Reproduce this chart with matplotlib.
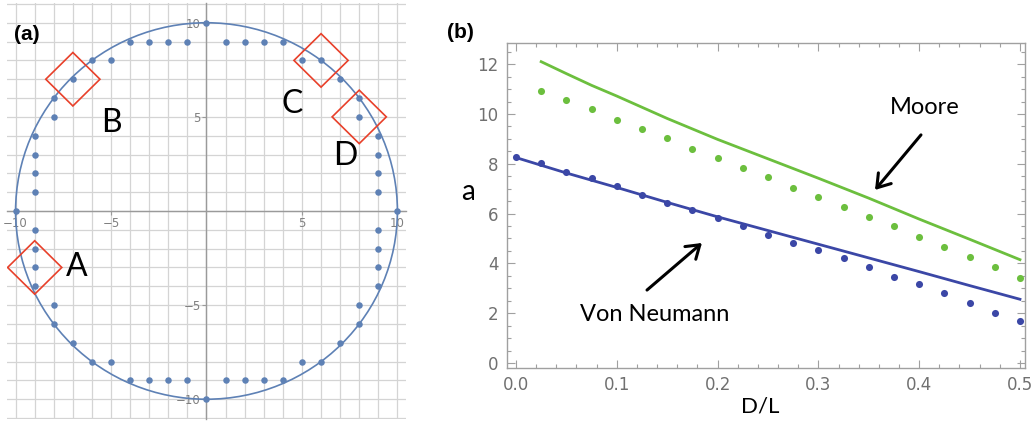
import matplotlib
matplotlib.use('Agg')
import matplotlib.pyplot as plt
from matplotlib.patches import Circle, RegularPolygon
import numpy as np

# ---- panel (a): lattice points on a circle of radius 10 ----
radius = 10
row_y = [10, 9, 8, 7, 6, 5, 4, 3, 2, 1, 0,
         -1, -2, -3, -4, -5, -6, -7, -8, -9, -10]
row_x = [[0], [-4, -3, -2, -1, 1, 2, 3, 4], [-6, -5, 5, 6], [-7, 7], [-8, 8], [-8, 8],
         [-9, 9], [-9, 9], [-9, 9], [-9, 9], [-10, 10],
         [-9, 9], [-9, 9], [-9, 9], [-9, 9], [-8, 8], [-8, 8], [-7, 7],
         [-6, -5, 5, 6], [-4, -3, -2, -1, 1, 2, 3, 4], [0]]

box_names = ['A', 'B', 'C', 'D']
box_x = [-9, -7, 6, 8]
box_y = [-3, 7, 8, 5]
label_x = [-6.8, -5.0, 4.5, 7.25]
label_y = [-3.0, 4.7, 5.7, 2.9]

# ---- panel (b): a vs D/L ----
vn_dot_x = [0.0, 0.025, 0.05, 0.075, 0.1, 0.125, 0.15, 0.175, 0.2, 0.225, 0.25,
            0.275, 0.3, 0.325, 0.35, 0.375, 0.4, 0.425, 0.45, 0.475, 0.5]
vn_dot_y = [8.29, 8.05, 7.66, 7.42, 7.12, 6.75, 6.44, 6.13, 5.81, 5.50, 5.14,
            4.83, 4.52, 4.22, 3.84, 3.47, 3.17, 2.80, 2.42, 1.99, 1.69]
moore_dot_x = vn_dot_x[1:]
moore_dot_y = [10.94, 10.56, 10.19, 9.76, 9.40, 9.02, 8.59, 8.23, 7.83, 7.48,
               7.04, 6.68, 6.25, 5.88, 5.51, 5.07, 4.64, 4.27, 3.84, 3.41]

vn_line_x = [0.0, 0.05, 0.1, 0.15, 0.2, 0.25, 0.3, 0.35, 0.4, 0.45, 0.5]
vn_line_y = [8.25, 7.63, 7.05, 6.45, 5.87, 5.32, 4.77, 4.22, 3.67, 3.11, 2.56]
moore_line_x = [0.025, 0.05, 0.075, 0.1, 0.15, 0.2, 0.25, 0.3, 0.35, 0.4, 0.45, 0.5]
moore_line_y = [12.1, 11.62, 11.15, 10.72, 9.82, 8.98, 8.2, 7.42, 6.62, 5.78, 4.97, 4.15]

pt_blue = '#5e81b5'
box_red = '#e8402a'
vn_blue = '#3b47a6'
moore_green = '#6cbf3e'

fig = plt.figure(figsize=(10.31, 4.25), dpi=100)

# ---------------- (a) ----------------
ax1 = fig.add_axes([7 / 1031, 6 / 425, 399 / 1031, 416 / 425])
ax1.set_xlim(-10.45, 10.45)
ax1.set_ylim(-11.05, 11.05)

for g in range(-11, 12):
    ax1.axhline(g, color='#d4d4d4', lw=0.9, zorder=0)
    ax1.axvline(g, color='#d4d4d4', lw=0.9, zorder=0)

ax1.add_patch(Circle((0, 0), radius, fill=False, ec=pt_blue, lw=1.2, zorder=2))

xs = [x for xr in row_x for x in xr]
ys = [y for y, xr in zip(row_y, row_x) for x in xr]
ax1.scatter(xs, ys, s=22, color=pt_blue, zorder=3, linewidths=0)

for name, bx, by, lx, ly in zip(box_names, box_x, box_y, label_x, label_y):
    ax1.add_patch(RegularPolygon((bx, by), numVertices=4, radius=1.42, orientation=0,
                                 fill=False, ec=box_red, lw=1.2, zorder=4))
    ax1.text(lx, ly, name, fontsize=23, family='Lato', ha='center', va='center', zorder=5)

for s in ['top', 'right']:
    ax1.spines[s].set_visible(False)
ax1.spines['left'].set_position(('data', 0))
ax1.spines['bottom'].set_position(('data', 0))
for s in ['left', 'bottom']:
    ax1.spines[s].set_color('#9a9a9a')
    ax1.spines[s].set_linewidth(1.0)
ax1.set_xticks([-10, -5, 5, 10])
ax1.set_yticks([-10, -5, 5, 10])
ax1.set_xticklabels(['\u221210', '\u22125', '5', '10'])
ax1.set_yticklabels(['\u221210', '\u22125', '5', '10'])
ax1.tick_params(colors='#9a9a9a', labelcolor='#808080', labelsize=8.5, length=3, width=0.8, pad=1)
ax1.set_facecolor('none')

fig.text(14 / 1031, 1 - 35 / 425, '(a)', fontsize=15, fontweight='bold', family='Liberation Sans',
         ha='left', va='center')

# ---------------- (b) ----------------
ax2 = fig.add_axes([507 / 1031, 57 / 425, 518 / 1031, 325 / 425])
ax2.plot(vn_line_x, vn_line_y, color=vn_blue, lw=2.0, zorder=2)
ax2.plot(moore_line_x, moore_line_y, color=moore_green, lw=2.0, zorder=2)
ax2.scatter(vn_dot_x, vn_dot_y, s=26, color=vn_blue, linewidths=0, zorder=3)
ax2.scatter(moore_dot_x, moore_dot_y, s=26, color=moore_green, linewidths=0, zorder=3)

ax2.set_xlim(-0.0089, 0.505)
ax2.set_ylim(-0.2, 12.85)
ax2.set_xticks([0.0, 0.1, 0.2, 0.3, 0.4, 0.5])
ax2.set_xticks(np.arange(0, 0.505, 0.02), minor=True)
ax2.set_yticks([0, 2, 4, 6, 8, 10, 12])
ax2.set_yticks(np.arange(0, 12.8, 0.5), minor=True)
ax2.set_xticklabels(['0.0', '0.1', '0.2', '0.3', '0.4', '0.5'])
for s in ax2.spines.values():
    s.set_color('#a0a0a0')
    s.set_linewidth(1.0)
ax2.tick_params(which='both', direction='in', top=True, right=True, colors='#a0a0a0',
                labelcolor='#707070', labelsize=12, width=0.8)
ax2.tick_params(which='major', length=6, pad=6)
ax2.tick_params(which='minor', length=3)

ax2.text(-0.0476, 6.87, 'a', fontsize=20, family='Lato', ha='center', va='center')
ax2.text(0.242, -1.75, 'D/L', fontsize=16, family='Lato', ha='center', va='center', clip_on=False)

ax2.text(0.4058, 10.28, 'Moore', fontsize=17, family='Lato', ha='center', va='center')
ax2.text(0.1379, 1.93, 'Von Neumann', fontsize=17, family='Lato', ha='center', va='center')
arrow_style = dict(arrowstyle='->, head_length=0.45, head_width=0.3', color='black', lw=2.2,
                   mutation_scale=20, shrinkA=0, shrinkB=0)
ax2.annotate('', xy=(0.3562, 6.95), xytext=(0.4018, 9.16), arrowprops=arrow_style)
ax2.annotate('', xy=(0.1845, 4.82), xytext=(0.1300, 2.93), arrowprops=arrow_style)

fig.text(447 / 1031, 1 - 33 / 425, '(b)', fontsize=15, fontweight='bold', family='Liberation Sans',
         ha='left', va='center')

fig.savefig('out.png', dpi=100)
